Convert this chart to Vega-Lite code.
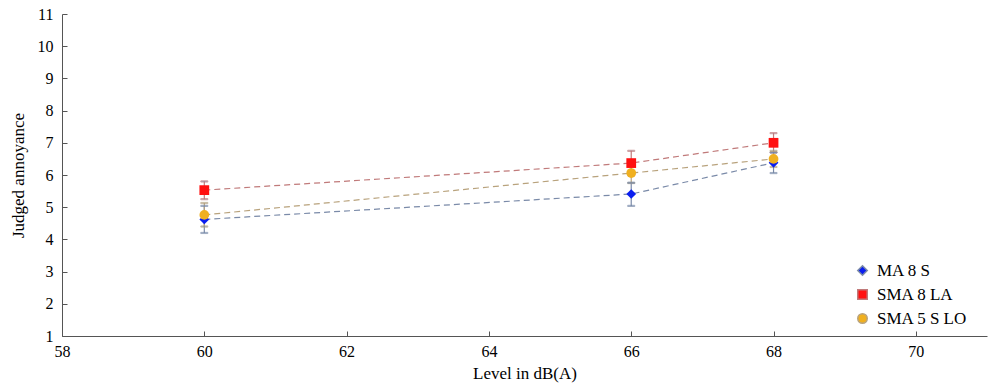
{
  "$schema": "https://vega.github.io/schema/vega-lite/v6.json",
  "width": 925,
  "height": 322,
  "autosize": {"type": "none"},
  "padding": {"left": 62, "top": 14, "right": 13, "bottom": 56},
  "background": "white",
  "config": {
    "font": "Liberation Serif",
    "view": {"stroke": null},
    "axis": {"labelFont": "Liberation Serif", "titleFont": "Liberation Serif", "labelFontSize": 16, "titleFontSize": 17, "titleFontWeight": "normal", "labelColor": "#000", "titleColor": "#000", "domainColor": "#555", "tickColor": "#555", "grid": false, "labelOverlap": false},
    "axisY": {"values": [1,2,3,4,5,6,7,8,9,10,11], "tickSize": -5, "labelPadding": 14, "titlePadding": 10, "labelOverlap": false},
    "legend": {"labelFont": "Liberation Serif", "labelFontSize": 17, "labelColor": "#000", "symbolOpacity": 1}
  },
  "data": {"values": [
    {"level": 60, "series": "MA 8 S", "y": 4.62, "lo": 4.2, "hi": 5.04},
    {"level": 66, "series": "MA 8 S", "y": 5.41, "lo": 5.04, "hi": 5.76},
    {"level": 68, "series": "MA 8 S", "y": 6.38, "lo": 6.06, "hi": 6.7},
    {"level": 60, "series": "SMA 8 LA", "y": 5.53, "lo": 5.25, "hi": 5.8},
    {"level": 66, "series": "SMA 8 LA", "y": 6.37, "lo": 6.0, "hi": 6.75},
    {"level": 68, "series": "SMA 8 LA", "y": 7.0, "lo": 6.7, "hi": 7.3},
    {"level": 60, "series": "SMA 5 S LO", "y": 4.76, "lo": 4.4, "hi": 5.13},
    {"level": 66, "series": "SMA 5 S LO", "y": 6.06, "lo": 5.75, "hi": 6.37},
    {"level": 68, "series": "SMA 5 S LO", "y": 6.5, "lo": 6.25, "hi": 6.75}
  ]},
  "encoding": {
    "x": {"field": "level", "type": "quantitative", "scale": {"domain": [58, 71], "nice": false, "zero": false},
      "axis": {"title": "Level in dB(A)", "values": [58, 60, 62, 64, 66, 68, 70], "tickSize": -5, "labelPadding": 12, "titlePadding": 6, "labelFlush": false}},
    "stroke": {"field": "series", "type": "nominal", "scale": {"domain": ["MA 8 S", "SMA 8 LA", "SMA 5 S LO"], "range": ["#7a8aa8", "#c07a7a", "#b8a27c"]}, "title": null,
      "legend": {"orient": "none", "legendX": 792, "legendY": 248, "symbolSize": 90, "symbolStrokeWidth": 1.5, "rowPadding": 6, "labelOffset": 6}}
  },
  "layer": [
    {
      "mark": {"type": "line", "strokeDash": [6, 4], "strokeWidth": 1.2},
      "encoding": {
        "y": {"field": "y", "type": "quantitative", "title": "Judged annoyance", "scale": {"domain": [1, 11], "nice": false, "zero": false}},
        "detail": {"field": "series"}
      }
    },
    {
      "mark": {"type": "rule", "strokeWidth": 1.2},
      "encoding": {
        "y": {"field": "lo", "type": "quantitative", "title": "Judged annoyance"},
        "y2": {"field": "hi"}
      }
    },
    {
      "mark": {"type": "tick", "orient": "horizontal", "size": 7, "thickness": 1.2},
      "encoding": {
        "y": {"field": "lo", "type": "quantitative", "title": "Judged annoyance"}
      }
    },
    {
      "mark": {"type": "tick", "orient": "horizontal", "size": 7, "thickness": 1.2},
      "encoding": {
        "y": {"field": "hi", "type": "quantitative", "title": "Judged annoyance"}
      }
    },
    {
      "mark": {"type": "point", "filled": true, "opacity": 1, "strokeWidth": 0},
      "encoding": {
        "y": {"field": "y", "type": "quantitative", "title": "Judged annoyance"},
        "shape": {"field": "series", "type": "nominal", "scale": {"domain": ["MA 8 S", "SMA 8 LA", "SMA 5 S LO"], "range": ["diamond", "square", "circle"]}, "title": null,
          "legend": {"orient": "none", "legendX": 792, "legendY": 248, "symbolSize": 90, "symbolStrokeWidth": 1.5, "rowPadding": 6, "labelOffset": 6}},
        "fill": {"field": "series", "type": "nominal", "scale": {"domain": ["MA 8 S", "SMA 8 LA", "SMA 5 S LO"], "range": ["#0a1ef0", "#ff1010", "#f0b020"]}, "title": null,
          "legend": {"orient": "none", "legendX": 792, "legendY": 248, "symbolSize": 90, "symbolStrokeWidth": 1.5, "rowPadding": 6, "labelOffset": 6}},
        "size": {"value": 95}
      }
    }
  ]
}
